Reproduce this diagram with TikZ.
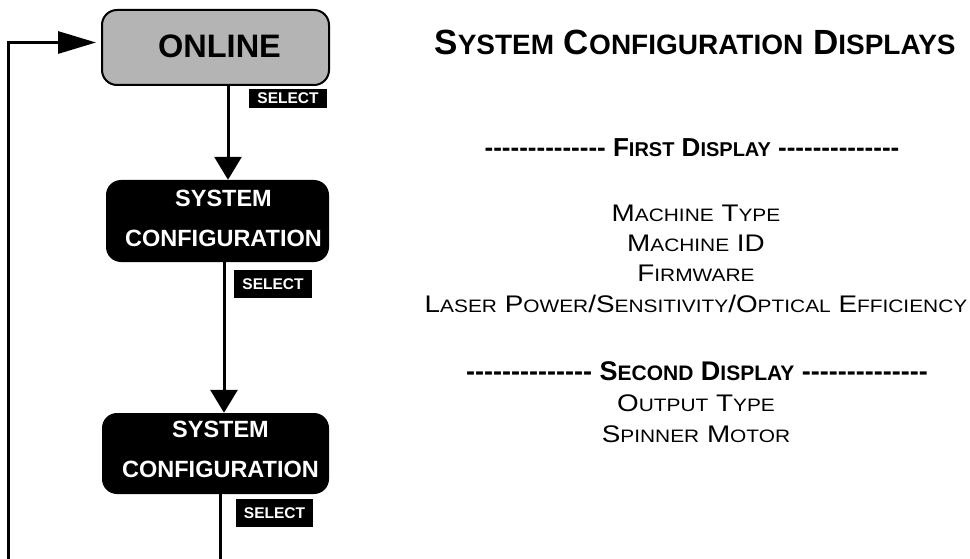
\documentclass[tikz,border=0pt]{standalone}
\usepackage{fontspec}
\setmainfont{Liberation Sans}
\newfontfamily\widefont[FakeStretch=1.16]{Liberation Sans}
\usetikzlibrary{arrows.meta}

\definecolor{boxgray}{RGB}{180,180,180}

% a row of fourteen hyphens, kept apart so no ligature forms
\newcommand\dashrow{-{}-{}-{}-{}-{}-{}-{}-{}-{}-{}-{}-{}-{}-}
% reduced capitals for the small-caps look of each text level
\newcommand\tsc[1]{{\fontsize{28}{28}\selectfont#1}}
\newcommand\hsc[1]{{\fontsize{20}{20}\selectfont#1}}
\newcommand\hscb[1]{{\fontsize{21}{21}\selectfont#1}}
\newcommand\bsc[1]{{\fontsize{18}{18}\selectfont#1}}

\begin{document}
\begin{tikzpicture}[x=1pt,y=-1pt,
  flowbox/.style={rounded corners=15pt, inner sep=0pt},
  onlinebox/.style={flowbox, draw=black, line width=2pt, fill=boxgray},
  darkbox/.style={flowbox, fill=black},
  boxtext/.style={align=center, text=white, font=\bfseries\fontsize{23.5}{40}\selectfont},
  selbox/.style={fill=black, text=white, inner sep=0pt,
    font=\bfseries\fontsize{15.5}{15.5}\selectfont},
  conn/.style={line width=3pt},
  downtip/.style={-{Triangle[length=23pt,width=27pt]}},
  sidetip/.style={-{Triangle[length=38pt,width=22pt]}},
  headline/.style={anchor=base, font=\bfseries\fontsize{26}{26}\selectfont},
  bodyline/.style={anchor=base, font=\widefont\fontsize{24}{24}\selectfont}]

\useasboundingbox (0,0) rectangle (970,559);

% flow of menu states
\node[onlinebox, minimum width=227pt, minimum height=75pt,
  label={[xshift=4pt, yshift=1.5pt, font=\bfseries\fontsize{32.5}{32.5}\selectfont]center:ONLINE}]
  (online) at (215.5,47.5) {};
\node[darkbox, minimum width=223pt, minimum height=82pt,
  label={[boxtext, xshift=6pt, yshift=2.5pt]center:SYSTEM\\CONFIGURATION}]
  (sys1) at (217.5,221) {};
\node[darkbox, minimum width=227pt, minimum height=81pt,
  label={[boxtext, xshift=5pt, yshift=4pt]center:SYSTEM\\CONFIGURATION}]
  (sys2) at (215.5,453.5) {};

% key labels beside the connectors
\node[selbox, minimum width=78pt, minimum height=19pt] (sel1) at (288,98.5) {SELECT};
\node[selbox, minimum width=78pt, minimum height=28pt] (sel2) at (273,284) {SELECT};
\node[selbox, minimum width=77pt, minimum height=28pt] (sel3) at (274.5,513) {SELECT};

% connectors
\coordinate (exitend) at (220,566);
\coordinate (loopstart) at (8.5,566);
\draw[conn, downtip] ([xshift=12.5pt]online.south) -- ([xshift=10.5pt]sys1.north);
\draw[conn, downtip] ([xshift=6.5pt]sys1.south) -- ([xshift=8.5pt]sys2.north);
\draw[conn] ([xshift=4.5pt]sys2.south) -- (exitend);
\draw[conn, sidetip] (loopstart) |- ([xshift=-5pt, yshift=5pt]online.west);

% description of the displays
\node[anchor=base, font=\bfseries\fontsize{35}{35}\selectfont] (title) at (695,55)
  {S\tsc{YSTEM} C\tsc{ONFIGURATION} D\tsc{ISPLAYS}};
\node[headline] (first) at (692,156.7) {\dashrow\ F\hsc{IRST} D\hsc{ISPLAY} \dashrow};
\node[bodyline] (mtype) at (696,221.7) {M\bsc{ACHINE} T\bsc{YPE}};
\node[bodyline] (mid) at (696,251.7) {M\bsc{ACHINE} ID};
\node[bodyline] (firm) at (696,281.7) {F\bsc{IRMWARE}};
\node[bodyline] (laser) at (696,312.5) {L\bsc{ASER} P\bsc{OWER}/S\bsc{ENSITIVITY}/O\bsc{PTICAL} E\bsc{FFICIENCY}};
\node[headline, font=\bfseries\fontsize{27}{27}\selectfont] (second) at (697,380)
  {\dashrow\ S\hscb{ECOND} D\hscb{ISPLAY} \dashrow};
\node[bodyline] (otype) at (696,411.7) {O\bsc{UTPUT} T\bsc{YPE}};
\node[bodyline] (spin) at (696,442) {S\bsc{PINNER} M\bsc{OTOR}};
\end{tikzpicture}
\end{document}
